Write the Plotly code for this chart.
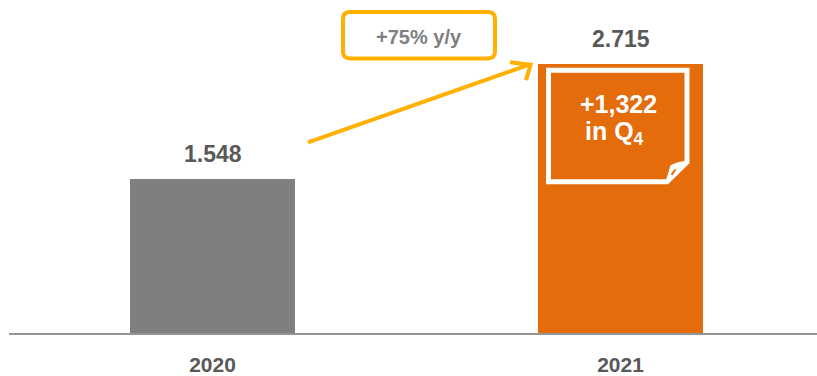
import plotly.graph_objects as go

# ---- data ----
years = ["2020", "2021"]
values = [1.548, 2.715]
value_labels = ["1.548", "2.715"]
bar_colors = ["#7F7F7F", "#E46C0A"]
growth_label = "+75% y/y"
note_line1 = "+1,322"
note_line2 = "in Q<sub>4</sub>"

# ---- geometry helpers (decorations placed in data coordinates) ----
X0_PX, X_SCALE = 212.5, 408.0      # pixel x of category 0, px per category
Y0_PX, Y_SCALE = 337.0, 100.4      # pixel y of baseline, px per unit

def dx(px):
    return (px - X0_PX) / X_SCALE

def dy(py):
    return (Y0_PX - py) / Y_SCALE

def P(px, py):
    return f"{dx(px):.5f},{dy(py):.5f}"

FONT = "Arial, Liberation Sans, sans-serif"
AMBER = "#FFB000"
xs = list(range(len(years)))

fig = go.Figure()
fig.add_trace(go.Bar(
    x=xs, y=values, width=0.404,
    marker=dict(color=bar_colors, line=dict(width=0)),
    hoverinfo="skip", showlegend=False,
))

# value labels above bars
for i, (v, t) in enumerate(zip(values, value_labels)):
    fig.add_annotation(x=xs[i], y=v, text=t, showarrow=False, yanchor="middle",
                       yshift=25, font=dict(family=FONT, size=23, color="#595959", weight="bold"))

shapes = []
# growth arrow
shapes.append(dict(type="path", path=f"M {P(308,144)} L {P(530,65)}",
                   line=dict(color=AMBER, width=4), xref="x", yref="y"))
shapes.append(dict(type="path", path=f"M {P(510,63)} L {P(530.5,65.5)} L {P(526,81)}",
                   line=dict(color=AMBER, width=4), xref="x", yref="y"))

# rounded box for growth label
x1, y1, x2, y2, r = 343, 12, 495, 59, 7
rr = (f"M {P(x1+r,y1)} L {P(x2-r,y1)} Q {P(x2,y1)} {P(x2,y1+r)} "
      f"L {P(x2,y2-r)} Q {P(x2,y2)} {P(x2-r,y2)} L {P(x1+r,y2)} "
      f"Q {P(x1,y2)} {P(x1,y2-r)} L {P(x1,y1+r)} Q {P(x1,y1)} {P(x1+r,y1)} Z")
shapes.append(dict(type="path", path=rr, line=dict(color=AMBER, width=4),
                   fillcolor="white", xref="x", yref="y"))

# note with folded corner on 2021 bar
note = (f"M {P(548.5,71)} L {P(687,71)} L {P(687,164)} L {P(667,184)} "
        f"L {P(548.5,184)} Z")
shapes.append(dict(type="path", path=note, line=dict(color="white", width=5),
                   xref="x", yref="y"))
fold = f"M {P(666,185)} L {P(671,168)} Q {P(674,165)} {P(688,163)} Z"
shapes.append(dict(type="path", path=fold, line=dict(color="white", width=1.5),
                   fillcolor="white", xref="x", yref="y"))
shapes.append(dict(type="path", path=f"M {P(671.5,177)} L {P(675.5,171.5)}",
                   line=dict(color="#E46C0A", width=2), xref="x", yref="y"))
fig.update_layout(shapes=shapes)

fig.add_annotation(x=dx(419), y=dy(37), text=f"<b>{growth_label}</b>", showarrow=False,
                   font=dict(family=FONT, size=20, color="#7F7F7F"))
fig.add_annotation(x=dx(618), y=dy(105), text=f"<b>{note_line1}</b>", showarrow=False,
                   font=dict(family=FONT, size=25, color="white"))
fig.add_annotation(x=dx(614), y=dy(135), text=f"<b>{note_line2}</b>", showarrow=False,
                   font=dict(family=FONT, size=25, color="white"))

fig.update_layout(
    width=817, height=376,
    margin=dict(l=9, r=0, t=10, b=39),
    paper_bgcolor="white", plot_bgcolor="white",
    xaxis=dict(range=[dx(9), dx(817)], tickvals=xs, ticktext=years,
               showgrid=False, zeroline=False, showline=True,
               linecolor="#959595", linewidth=2, ticks="", ticklabelstandoff=12,
               tickfont=dict(family=FONT, size=21, color="#595959", weight="bold"),
               fixedrange=True),
    yaxis=dict(range=[0, dy(10)], visible=False, fixedrange=True),
    bargap=0,
)

fig.write_html("out.html", config={"displayModeBar": False},
               post_script="document.body.style.margin='0';document.body.style.overflow='hidden';")
